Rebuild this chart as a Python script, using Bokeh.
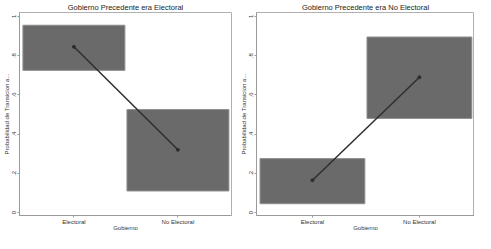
from bokeh.plotting import figure
from bokeh.layouts import row
from bokeh.models import FixedTicker
from bokeh.embed import file_html
from bokeh.resources import INLINE

categories = ["Electoral", "No Electoral"]
x_pos = [1, 2]

# Panel 1: Gobierno Precedente era Electoral
est_1 = [0.845, 0.32]
low_1 = [0.725, 0.11]
high_1 = [0.955, 0.525]

# Panel 2: Gobierno Precedente era No Electoral
est_2 = [0.165, 0.69]
low_2 = [0.045, 0.48]
high_2 = [0.275, 0.895]

y_ticks = [0, 0.2, 0.4, 0.6, 0.8, 1.0]
y_tick_labels = ["0", ".2", ".4", ".6", ".8", "1"]

titles = ["Gobierno Precedente era Electoral", "Gobierno Precedente era No Electoral"]


def make_panel(title, est, low, high, right_border):
    p = figure(width=237, height=233, output_backend="svg", toolbar_location=None,
               x_range=(0.477, 2.515), y_range=(-0.015, 1.02),
               min_border_left=2, min_border_right=right_border, min_border_top=1, min_border_bottom=0)
    p.title.text = title
    p.title.align = "center"
    p.title.text_font = "Liberation Sans"
    p.title.text_font_size = "7.5px"
    p.title.text_font_style = "normal"
    p.title.text_color = "#222222"
    p.title.standoff = 1
    p.xgrid.visible = False
    p.ygrid.visible = False
    p.outline_line_color = "#b0b0b0"
    p.outline_line_width = 1
    p.background_fill_color = "white"

    p.vbar(x=x_pos, width=0.98, bottom=low, top=high,
           fill_color="#6a6a6a", line_color="#8e8e8e", line_width=1)
    p.line(x=x_pos, y=est, line_color="#2e2e2e", line_width=1.5)
    p.scatter(x=x_pos, y=est, size=3, fill_color="#2e2e2e", line_color="#2e2e2e")

    xa = p.xaxis[0]
    xa.ticker = FixedTicker(ticks=x_pos)
    xa.major_label_overrides = {x: c for x, c in zip(x_pos, categories)}
    xa.axis_label = "Gobierno"
    ya = p.yaxis[0]
    ya.ticker = FixedTicker(ticks=y_ticks)
    ya.major_label_overrides = {t: l for t, l in zip(y_ticks, y_tick_labels)}
    ya.major_label_orientation = "vertical"
    ya.axis_label = "Probabilidad de Transicion a..."
    for ax in (xa, ya):
        ax.axis_line_color = "#9a9a9a"
        ax.major_tick_line_color = "#9a9a9a"
        ax.major_tick_in = 0
        ax.major_tick_out = 2
        ax.minor_tick_line_color = None
        ax.major_label_text_font = "Liberation Sans"
        ax.major_label_text_font_size = "6px"
        ax.major_label_text_color = "#333333"
        ax.major_label_standoff = 1
        ax.axis_label_text_font = "Liberation Sans"
        ax.axis_label_text_font_size = "6px"
        ax.axis_label_text_font_style = "normal"
        ax.axis_label_text_color = "#333333"
        ax.axis_label_standoff = 0
    xa.axis_label_standoff = -3
    return p


p1 = make_panel(titles[0], est_1, low_1, high_1, 6)
p2 = make_panel(titles[1], est_2, low_2, high_2, 0)
p = row(p1, p2)

open("out.html", "w").write(file_html(p, INLINE))
